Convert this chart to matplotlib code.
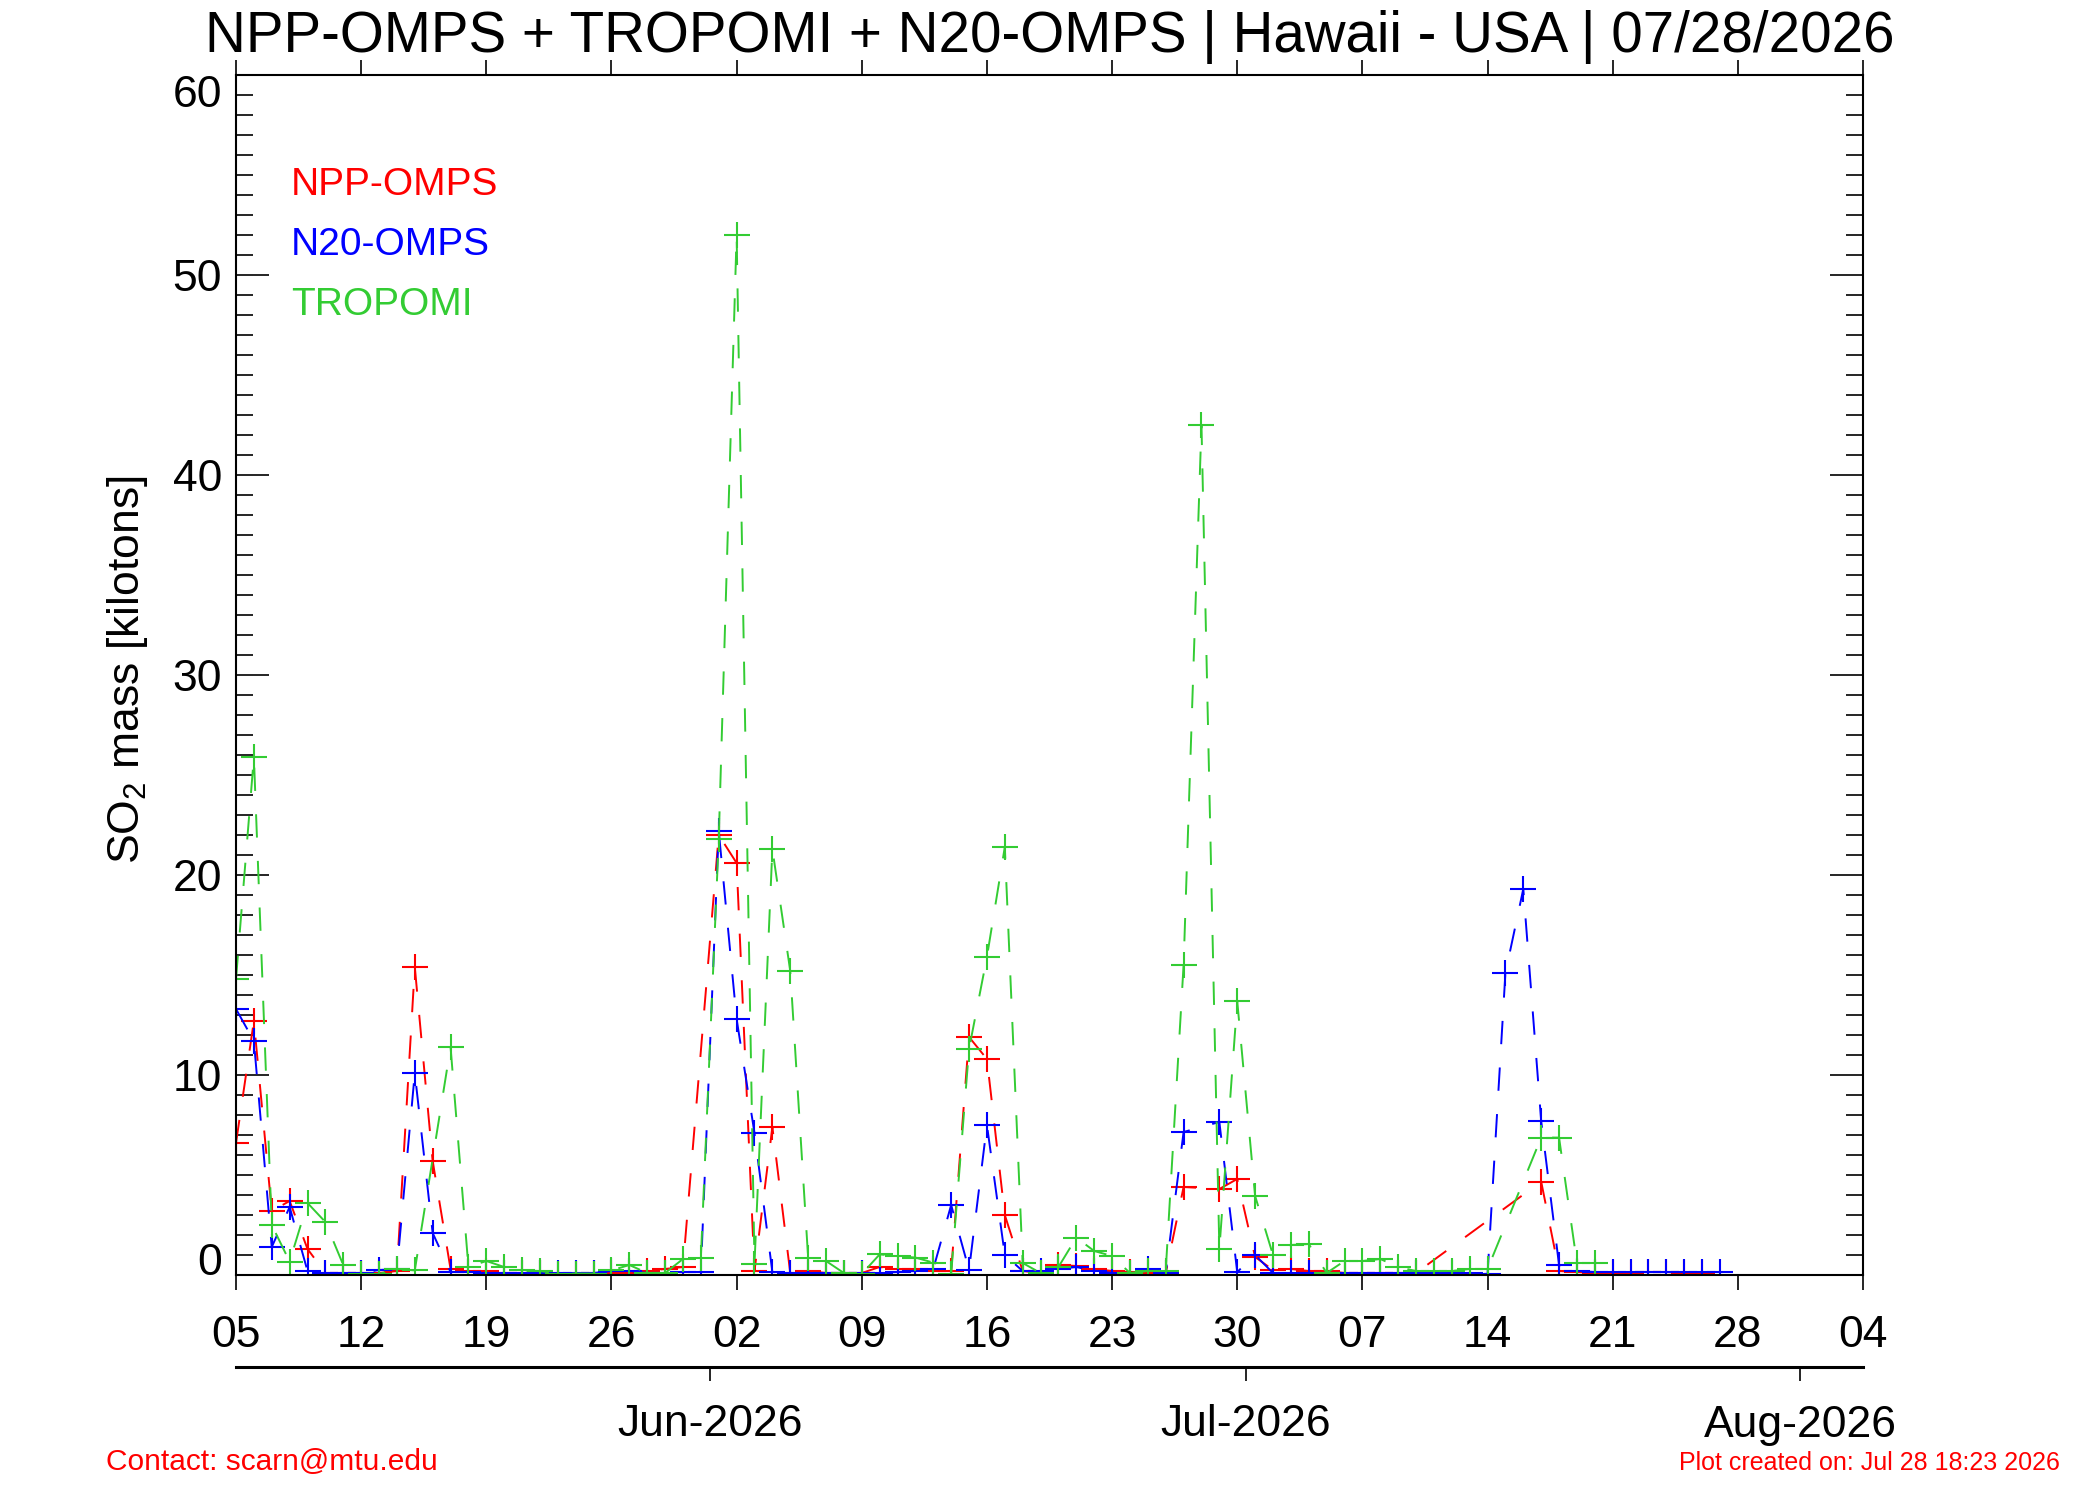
import numpy as np
import pandas as pd
import matplotlib
matplotlib.use("Agg")
import matplotlib.pyplot as plt
import matplotlib.dates as mdates
from matplotlib.ticker import MultipleLocator, FixedLocator

plt.rcParams['font.family'] = ['Liberation Sans', 'DejaVu Sans']
plt.rcParams['mathtext.fontset'] = 'custom'
plt.rcParams['mathtext.rm'] = 'Liberation Sans'
plt.rcParams['mathtext.default'] = 'regular'

nan = np.nan

# daily values, May 5 .. Jul 27 2026 (nan = no retrieval that day)
days = pd.date_range("2026-05-05", "2026-07-27", freq="D")

npp_omps = [6.6, 12.7, 3.2, 3.7, 1.3, 0.1, 0.1, 0.1, 0.1, 0.2,
            15.4, 5.7, 0.3, 0.2, 0.2, 0.1, 0.1, 0.1, 0.05, 0.05,
            0.1, 0.1, 0.1, 0.2, 0.3, 0.4, nan, 22.0, 20.6, 0.2,
            7.4, 0.1, 0.2, 0.1, 0.1, 0.1, 0.4, 0.3, 0.3, 0.2,
            0.2, 11.9, 10.8, 3.0, 0.2, 0.1, 0.5, 0.45, 0.3, 0.2,
            0.15, 0.1, 0.1, 4.4, nan, 4.3, 4.8, 0.9, 0.25, 0.3,
            0.2, 0.2, 0.1, 0.1, 0.1, 0.1, 0.1, nan, nan, nan,
            nan, nan, nan, 4.67, 0.2, 0.15, 0.1, 0.1, 0.1, 0.15,
            0.15, 0.1, 0.1, nan]

n20_omps = [13.3, 11.7, 1.4, 3.4, 0.2, 0.1, 0.1, 0.1, 0.25, 0.3,
            10.1, 2.1, 0.15, 0.15, 0.1, 0.1, 0.1, 0.1, 0.1, 0.1,
            0.1, 0.2, 0.2, 0.1, 0.1, 0.15, 0.15, 22.2, 12.8, 7.1,
            0.15, 0.1, 0.1, 0.1, 0.1, 0.1, 0.1, 0.15, 0.2, 0.3,
            3.5, 0.25, 7.5, 1.0, 0.2, 0.2, 0.3, 0.4, 0.2, 0.1,
            0.1, 0.3, 0.1, 7.15, nan, 7.65, 0.15, 1.0, 0.1, 0.1,
            0.1, 0.1, 0.1, 0.1, 0.1, 0.1, 0.1, 0.1, 0.1, 0.1,
            0.05, 15.1, 19.3, 7.7, 0.5, 0.2, 0.15, 0.15, 0.15, 0.15,
            0.15, 0.15, 0.15, 0.15]

tropomi = [14.8, 25.9, 2.5, 0.67, 3.6, 2.65, 0.5, 0.05, 0.05, 0.3,
           0.23, nan, 11.4, 0.4, 0.7, 0.4, 0.23, 0.2, 0.07, 0.07,
           0.07, 0.23, 0.5, 0.1, 0.1, 0.8, 0.85, 21.8, 52.0, 0.57,
           21.3, 15.2, 0.87, 0.7, 0.1, 0.05, 1.03, 0.95, 0.87, 0.62,
           0.05, 11.3, 15.9, 21.4, 0.6, 0.1, 0.4, 1.87, 1.2, 0.95,
           0.1, 0.2, 0.2, 15.5, 42.5, 1.28, 13.7, 3.95, 1.0, 1.5,
           1.55, 0.1, 0.7, 0.7, 0.8, 0.4, 0.2, 0.2, 0.2, 0.3,
           0.3, nan, nan, 6.87, 6.87, 0.6, 0.6, nan, nan, nan,
           nan, nan, nan, nan]

series_names = ["NPP-OMPS", "N20-OMPS", "TROPOMI"]
series_colors = ["#FF0000", "#0000FF", "#33CC33"]

week_ticks = pd.date_range("2026-05-05", "2026-08-04", freq="7D")
month_ticks = pd.to_datetime(["2026-06-01", "2026-07-01", "2026-08-01"]) - pd.Timedelta(hours=12)
month_labels = ["Jun-2026", "Jul-2026", "Aug-2026"]

title = "NPP-OMPS + TROPOMI + N20-OMPS | Hawaii - USA | 07/28/2026"

fig = plt.figure(figsize=(21, 15), dpi=100)
ax = fig.add_axes([236 / 2100, 225 / 1500, 1627 / 2100, 1200 / 1500])

for vals, color in zip([npp_omps, n20_omps, tropomi], series_colors):
    v = np.array(vals, dtype=float)
    m = ~np.isnan(v)
    ax.plot(days[m], v[m], color=color, ls=(0, (12, 12)), lw=1.4,
            marker='+', ms=19, mew=1.5)

ax.set_xlim(pd.Timestamp("2026-05-05"), pd.Timestamp("2026-08-04"))
ax.set_ylim(0, 60)

ax.xaxis.set_major_locator(FixedLocator(mdates.date2num(week_ticks)))
ax.xaxis.set_major_formatter(mdates.DateFormatter('%d'))
ax.tick_params(axis='x', which='major', direction='out', length=11, width=1.2,
               top=True, labelsize=32, pad=18)
ax.yaxis.set_major_locator(MultipleLocator(10))
ax.yaxis.set_minor_locator(MultipleLocator(1))
ax.tick_params(axis='y', which='major', direction='in', length=24, width=1.2,
               left=True, right=True, labelsize=32, pad=10)
ax.tick_params(axis='y', which='minor', direction='in', length=12, width=1.2,
               left=True, right=True)
for s in ax.spines.values():
    s.set_linewidth(1.5)

# month axis below the day axis
sec = ax.secondary_xaxis(-92 / 1200)
sec.set_xticks(mdates.date2num(month_ticks), month_labels)
sec.tick_params(direction='out', length=10, width=1.2, labelsize=32, pad=17)
sec.spines['bottom'].set_linewidth(2.2)

fig.text(0.5, 1 - 52 / 1500, title, ha='center', va='baseline', fontsize=40.7)

for i, (name, color) in enumerate(zip(series_names, series_colors)):
    fig.text(291 / 2100, 1 - (195 + 60 * i) / 1500, name, color=color,
             fontsize=28, va='baseline')

fig.text(127 / 2100, 1 - 670 / 1500, r'SO$_2$ mass [kilotons]', rotation=90,
         ha='center', va='center', fontsize=32)

fig.text(106 / 2100, 1 - 1470 / 1500, "Contact: scarn@mtu.edu", color='red',
         fontsize=21.5, va='baseline')
fig.text(2060 / 2100, 1 - 1470 / 1500, "Plot created on: Jul 28 18:23 2026",
         color='red', fontsize=18, ha='right', va='baseline')

# edge labels sit inside the axis range, like the original
fig.canvas.draw()
for tick in ax.yaxis.get_major_ticks():
    if tick.get_loc() == 0:
        tick.label1.set_va('baseline')
    elif tick.get_loc() == 60:
        tick.label1.set_va('top')

fig.savefig("out.png", dpi=100)
